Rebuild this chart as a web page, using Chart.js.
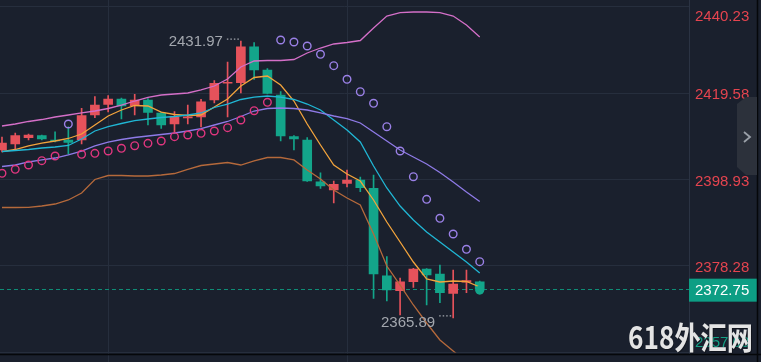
<!DOCTYPE html>
<html><head><meta charset="utf-8">
<script src="https://cdn.jsdelivr.net/npm/chart.js@4"></script>
<style>html,body{margin:0;padding:0;background:#1a202d;overflow:hidden}</style>
</head><body>
<canvas id="c" width="761" height="362"></canvas>
<script>
// ---- data ----
const opens  = [2405.97,2407.40,2408.91,2409.39,2408.36,2408.36,2408.36,2414.33,2416.83,2418.15,2416.55,2417.91,2414.81,2412.18,2413.66,2413.85,2417.91,2421.90,2422.04,2430.63,2425.07,2419.10,2409.20,2408.36,2398.40,2396.42,2398.02,2398.81,2396.83,2375.96,2372.38,2374.53,2377.56,2376.37,2371.76,2374.39,2374.53];
const highs  = [2409.08,2410.03,2409.79,2409.55,2410.34,2411.53,2415.93,2418.70,2418.98,2418.39,2419.27,2418.27,2415.04,2415.12,2416.71,2418.08,2422.56,2426.98,2431.97,2431.59,2425.43,2419.89,2409.43,2408.91,2400.55,2398.57,2401.20,2399.53,2400.00,2380.50,2375.42,2377.73,2377.68,2378.52,2377.32,2377.32,2374.70];
const lows   = [2405.49,2405.97,2408.36,2408.36,2407.88,2405.02,2407.40,2413.68,2415.04,2413.37,2414.33,2411.94,2411.10,2410.03,2412.18,2411.46,2417.19,2413.85,2419.58,2422.85,2419.34,2408.12,2405.97,2398.45,2396.78,2393.32,2397.14,2396.02,2370.57,2369.92,2366.58,2373.19,2368.97,2369.52,2365.89,2371.90,2372.55];
const closes = [2407.64,2409.39,2409.55,2408.60,2408.12,2407.81,2414.16,2416.71,2418.15,2416.48,2417.91,2414.92,2411.94,2413.85,2413.85,2417.50,2421.90,2422.09,2430.63,2425.07,2419.46,2409.31,2408.60,2398.57,2397.38,2397.78,2398.81,2396.97,2376.37,2372.55,2374.53,2377.56,2376.13,2371.90,2373.98,2374.77,2372.75];

const upperBand = [2411.70,2412.18,2412.78,2413.25,2413.85,2414.33,2414.81,2415.28,2415.88,2416.71,2417.67,2418.51,2419.10,2419.34,2419.58,2420.30,2421.25,2422.92,2425.79,2427.22,2427.34,2427.34,2427.58,2429.13,2430.32,2431.28,2431.64,2432.11,2435.10,2437.96,2438.75,2438.92,2438.92,2438.75,2437.96,2435.81,2432.95];
const maFast    = [2405.61,2406.09,2406.93,2407.64,2408.12,2408.72,2409.79,2411.94,2414.09,2415.52,2416.60,2416.48,2415.04,2414.45,2414.21,2414.33,2416.24,2418.15,2421.25,2423.28,2423.64,2421.49,2417.67,2412.18,2407.17,2402.39,2400.24,2398.57,2394.04,2388.78,2384.01,2379.23,2375.18,2374.46,2374.70,2374.58,2373.27];
const maMid     = [2405.61,2405.85,2406.09,2406.45,2406.69,2407.05,2408.60,2410.51,2411.58,2412.30,2413.01,2413.37,2413.73,2413.97,2414.33,2414.81,2416.12,2416.95,2418.03,2418.62,2418.86,2418.62,2418.03,2416.95,2415.52,2413.13,2410.75,2407.88,2402.15,2396.90,2392.60,2389.26,2386.40,2384.01,2381.62,2379.23,2376.61];
const maSlow    = [2402.03,2402.39,2403.11,2403.59,2404.06,2404.78,2405.73,2406.93,2407.88,2408.48,2408.96,2409.31,2409.67,2410.03,2410.51,2411.10,2411.94,2412.78,2413.97,2415.28,2415.88,2416.00,2415.88,2415.52,2414.81,2414.09,2413.49,2412.42,2410.27,2408.12,2405.97,2404.30,2402.63,2400.60,2398.33,2395.94,2393.68];
const lowerBand = [2392.25,2392.25,2392.29,2392.60,2393.08,2394.04,2395.71,2398.93,2399.88,2399.88,2399.77,2399.77,2400.00,2400.36,2401.32,2402.27,2402.63,2402.99,2402.39,2403.35,2404.18,2404.18,2403.59,2401.20,2399.05,2396.42,2394.51,2392.84,2385.92,2378.28,2373.74,2368.97,2364.67,2360.61,2357.99,2355.36,2352.97];

const sarBelow = [2400.41,2401.36,2402.39,2403.42,2404.54,null,2404.95,2405.18,2405.73,2406.38,2407.00,2407.57,2408.12,2409.15,2409.55,2409.96,2410.51,2411.30,2413.13,2415.35,2417.36,null,null,null,null,null,null,null,null,null,null,null,null,null,null,null,null];
const sarAbove = [null,null,null,null,null,2412.18,null,null,null,null,null,null,null,null,null,null,null,null,null,null,null,2432.23,2431.76,2430.80,2428.82,2426.10,2422.85,2419.89,2417.12,2411.53,2405.73,2399.60,2394.20,2389.67,2385.92,2382.27,2379.31];

const yTickValues = [2357.63, 2378.28, 2398.93, 2419.58, 2440.23];
const lastPrice = 2372.75;
const highMark = { index: 18, value: 2431.97, text: '2431.97' };
const lowMark  = { index: 34, value: 2365.89, text: '2365.89' };
const timeBreaks = [8, 26];
const watermark = '618外汇网';

// ---- styles ----
const BG = '#1a202d', GRID = '#262e3d', RED = '#e5525b', GREEN = '#13a58a';
const idx = opens.map((_, i) => i);
const candleColors = idx.map(i => closes[i] >= opens[i] ? RED : GREEN);
const pts = arr => idx.map(i => ({ x: i, y: arr[i] }));
const lineDs = (arr, color) => ({ type: 'line', data: pts(arr), borderColor: color, borderWidth: 1.3, pointRadius: 0, tension: 0, order: 1 });
const sarDs = (arr, color) => ({ type: 'line', data: pts(arr), showLine: false, borderColor: color, pointBorderColor: color, pointBackgroundColor: 'rgba(0,0,0,0)', pointRadius: 3.8, pointBorderWidth: 1.4, order: 0 });

const deco = {
  id: 'deco',
  beforeDraw(chart) {
    const { ctx, scales: { x } } = chart;
    ctx.save();
    ctx.fillStyle = BG; ctx.fillRect(0, 0, chart.width, chart.height);
    ctx.strokeStyle = GRID; ctx.lineWidth = 1;
    timeBreaks.forEach(v => {
      const px = Math.round(x.getPixelForValue(v)) + 0.5;
      ctx.beginPath(); ctx.moveTo(px, 0); ctx.lineTo(px, chart.height); ctx.stroke();
    });
    ctx.restore();
  },
  beforeDatasetsDraw(chart) {
    const { ctx, chartArea: a, scales: { y } } = chart;
    const py = Math.round(y.getPixelForValue(lastPrice)) + 0.5;
    ctx.save();
    ctx.strokeStyle = '#0f8c76'; ctx.lineWidth = 1; ctx.setLineDash([4, 3]);
    ctx.beginPath(); ctx.moveTo(a.left, py); ctx.lineTo(a.right, py); ctx.stroke();
    ctx.restore();
  },
  afterDraw(chart) {
    const { ctx, chartArea: a, scales: { x, y } } = chart;
    ctx.save();
    ctx.strokeStyle = '#2b3343'; ctx.lineWidth = 1;
    ctx.beginPath(); ctx.moveTo(a.right + 0.5, 0); ctx.lineTo(a.right + 0.5, 354); ctx.stroke();
    ctx.font = '15px "Liberation Sans", Arial, sans-serif';
    ctx.textBaseline = 'middle'; ctx.textAlign = 'left';
    yTickValues.forEach(v => {
      let py = y.getPixelForValue(v) + 2;
      py = Math.max(16.5, Math.min(343, py));
      ctx.fillStyle = v > lastPrice ? '#e5444f' : '#14a085';
      ctx.fillText(v.toFixed(2), 695, py);
    });
    const lp = y.getPixelForValue(lastPrice);
    ctx.fillStyle = '#0d9e84';
    ctx.fillRect(a.right, lp - 10.5, 757 - a.right, 23);
    ctx.fillStyle = '#ffffff';
    ctx.fillText(lastPrice.toFixed(2), 695, lp + 1.5);
    ctx.fillStyle = GREEN;
    ctx.beginPath(); ctx.arc(x.getPixelForValue(opens.length - 1), lp + 1, 4.5, 0, Math.PI * 2); ctx.fill();
    ctx.fillStyle = '#a3a7ae'; ctx.strokeStyle = '#a3a7ae';
    ctx.textAlign = 'right';
    [[highMark, 1, -2], [lowMark, 4.5, -2]].forEach(([m, tOff, dOff]) => {
      const cx = x.getPixelForValue(m.index), py = y.getPixelForValue(m.value);
      ctx.fillText(m.text, cx - 18, py + tOff);
      ctx.setLineDash([1.5, 2]); ctx.lineWidth = 1.2;
      ctx.beginPath(); ctx.moveTo(cx - 14, py + dOff); ctx.lineTo(cx - 1, py + dOff); ctx.stroke();
      ctx.setLineDash([]);
    });
    ctx.strokeStyle = '#05070a'; ctx.lineWidth = 1.5;
    ctx.beginPath(); ctx.moveTo(0, 354.5); ctx.lineTo(chart.width, 354.5); ctx.stroke();
    ctx.beginPath(); ctx.moveTo(757.5, 0); ctx.lineTo(757.5, chart.height); ctx.stroke();
    ctx.fillStyle = '#2c313b';
    ctx.beginPath();
    ctx.moveTo(737, 104); ctx.lineTo(746, 97); ctx.lineTo(757, 97); ctx.lineTo(757, 175);
    ctx.lineTo(746, 175); ctx.lineTo(737, 167); ctx.closePath(); ctx.fill();
    ctx.strokeStyle = '#9aa0a8'; ctx.lineWidth = 1.8;
    ctx.beginPath(); ctx.moveTo(744, 132); ctx.lineTo(750, 137); ctx.lineTo(744, 142); ctx.stroke();
    ctx.font = 'bold 31px "Noto Sans CJK SC", sans-serif';
    ctx.textAlign = 'left'; ctx.textBaseline = 'alphabetic';
    const w = ctx.measureText(watermark).width;
    ctx.translate(628, 348.5); ctx.scale(125 / w, 1);
    ctx.fillStyle = 'rgba(0,0,0,0.35)'; ctx.fillText(watermark, 1, 1);
    ctx.fillStyle = '#e4e4e4'; ctx.fillText(watermark, 0, 0);
    ctx.restore();
  }
};

new Chart(document.getElementById('c'), {
  type: 'bar',
  data: {
    datasets: [
      { type: 'bar', data: idx.map(i => ({ x: i, y: [lows[i], highs[i]] })), backgroundColor: candleColors, barThickness: 1, grouped: false, order: 5 },
      { type: 'bar', data: idx.map(i => ({ x: i, y: [opens[i], closes[i]] })), backgroundColor: candleColors, barThickness: 9, minBarLength: 1, grouped: false, order: 4 },
      lineDs(lowerBand, '#b5693b'),
      lineDs(upperBand, '#d46fc8'),
      lineDs(maSlow, '#8e7ae6'),
      lineDs(maMid, '#20b6d4'),
      lineDs(maFast, '#f2a33c'),
      sarDs(sarBelow, '#e0367f'),
      sarDs(sarAbove, '#9a80e6')
    ]
  },
  options: {
    responsive: false,
    animation: false,
    events: [],
    layout: { autoPadding: false, padding: { top: 6.5, bottom: 9.5, left: 0, right: 0 } },
    plugins: { legend: { display: false }, tooltip: { enabled: false } },
    scales: {
      x: {
        type: 'linear', min: -0.15, max: 51.77, offset: false,
        afterBuildTicks: s => { s.ticks = timeBreaks.map(v => ({ value: v })); },
        afterFit: s => { s.height = 0; },
        ticks: { display: false },
        grid: { color: GRID, drawTicks: false, offset: false },
        border: { display: false }
      },
      y: {
        type: 'linear', position: 'right', min: yTickValues[0], max: yTickValues[yTickValues.length - 1],
        afterBuildTicks: s => { s.ticks = yTickValues.map(v => ({ value: v })); },
        afterFit: s => { s.width = 72; },
        ticks: { display: false },
        grid: { color: GRID, drawTicks: false },
        border: { display: false }
      }
    }
  },
  plugins: [deco]
});
</script>
</body></html>
